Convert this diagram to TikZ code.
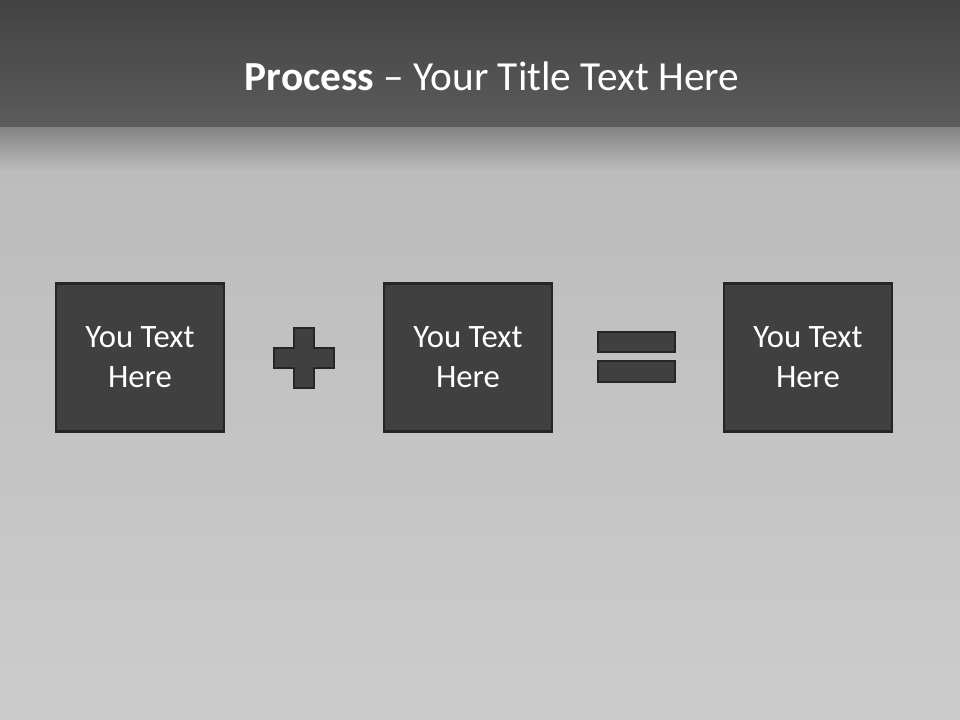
\documentclass[tikz,border=0pt]{standalone}
\usepackage{fontspec}
\setmainfont{Carlito}
\usepackage{tikz}
\usetikzlibrary{positioning}
\definecolor{headtop}{RGB}{66,66,66}
\definecolor{headbot}{RGB}{92,92,92}
\definecolor{fadetop}{RGB}{130,130,130}
\definecolor{plate}{RGB}{188,188,188}
\definecolor{platebot}{RGB}{204,204,204}
\definecolor{boxfill}{RGB}{64,64,64}
\definecolor{boxedge}{RGB}{38,38,38}

\begin{document}
\begin{tikzpicture}[x=0.75pt, y=-0.75pt,
  textbox/.style={draw=boxedge, line width=2pt, fill=boxfill, text=white,
    minimum width=126pt, minimum height=111pt, align=center,
    font=\fontsize{24.5}{30}\selectfont},
  symbol/.style={draw=boxedge, line width=2pt, fill=boxfill}]
  \useasboundingbox (0,0) rectangle (960,720);
  %% 1. Background
  \shade[top color=plate, bottom color=platebot] (0,170) rectangle (960,720);
  \shade[top color=fadetop, bottom color=plate] (0,126) rectangle (960,171);
  \shade[top color=headtop, bottom color=headbot] (0,0) rectangle (960,127);
  %% 2. Title
  \node[text=white, font=\fontsize{31}{37}\selectfont] (title) at (492,76)
    {\textbf{Process} -- Your Title Text Here};
  %% 3. Boxes
  \node[textbox] (first)  at (140,357.5) {You Text\\Here};
  \node[textbox] (second) at (468,357.5) {You Text\\Here};
  \node[textbox] (third)  at (808,357.5) {You Text\\Here};
  %% 4. Plus and equals
  \draw[symbol] (294,328) -- (314,328) -- (314,348) -- (334,348) -- (334,368)
    -- (314,368) -- (314,388) -- (294,388) -- (294,368) -- (274,368)
    -- (274,348) -- (294,348) -- cycle;
  \draw[symbol] (598,332) rectangle (675,352);
  \draw[symbol] (598,361) rectangle (675,382);
\end{tikzpicture}
\end{document}
